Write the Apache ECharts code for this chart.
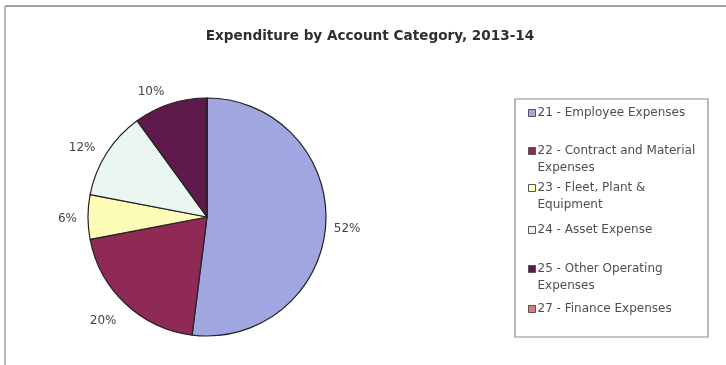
<!DOCTYPE html>
<html>
<head>
<meta charset="utf-8">
<script src="https://cdn.jsdelivr.net/npm/echarts@6/dist/echarts.min.js"></script>
<style>
  html, body { margin: 0; padding: 0; background: #ffffff; }
  #chart { width: 726px; height: 365px; }
</style>
</head>
<body>
<div id="chart"></div>
<script>
// Expenditure shares by account category, 2013-14
const categories = [
  '21 - Employee Expenses',
  '22 - Contract and Material Expenses',
  '23 - Fleet, Plant & Equipment',
  '24 - Asset Expense',
  '25 - Other Operating Expenses',
  '27 - Finance Expenses'
];
const legendLines = [
  ['21 - Employee Expenses'],
  ['22 - Contract and Material', 'Expenses'],
  ['23 - Fleet, Plant &', 'Equipment'],
  ['24 - Asset Expense'],
  ['25 - Other Operating', 'Expenses'],
  ['27 - Finance Expenses']
];
const shares = [52, 20, 6, 12, 10, 0];
const colors = ['#a0a6e0', '#8e2a55', '#fdfcb8', '#eaf6f2', '#5e1a4a', '#e07a7a'];

// layout tweaks for the percentage labels around the pie
const labelNudge = [[-1, 4], [-2, 13], [-2, 2], [-3, -2], [-1, -6], [0, 0]];

const FONT = 'DejaVu Sans, Arial, sans-serif';
const LINE = 17;
const legendX = 528;
const legendFirstLineY = [113, 151, 188, 230, 269, 309];

// one legend block per category so that each entry sits at its own row;
// wrapped entries get a blank leading line so the swatch lines up with the first line
const legends = categories.map((name, i) => {
  const lines = legendLines[i];
  const twoLine = lines.length > 1;
  return {
    data: [name],
    left: legendX,
    top: legendFirstLineY[i] - (twoLine ? 1.5 * LINE : 0.5 * LINE),
    orient: 'vertical',
    padding: 0,
    itemWidth: 7,
    itemHeight: 7,
    itemGap: 0,
    selectedMode: false,
    icon: 'rect',
    itemStyle: { borderColor: '#555', borderWidth: 1 },
    formatter: () => (twoLine ? '\n' : '') + lines.join('\n'),
    textStyle: {
      fontFamily: FONT,
      fontSize: 12,
      color: '#4e4e4e',
      lineHeight: LINE,
      padding: [0, 0, 0, -3]
    }
  };
});

const chart = echarts.init(document.getElementById('chart'), null, { renderer: 'canvas' });
chart.setOption({
  backgroundColor: '#ffffff',
  animation: false,
  color: colors,
  title: {
    text: 'Expenditure by Account Category, 2013-14',
    left: 365,
    top: 24,
    textAlign: 'center',
    textStyle: { fontFamily: FONT, fontSize: 13.6, fontWeight: 'bold', color: '#2e2e2e' }
  },
  legend: legends,
  graphic: [
    { type: 'line', shape: { x1: 5, y1: 6, x2: 726, y2: 6 }, style: { stroke: '#a0a0a0', lineWidth: 2 } },
    { type: 'line', shape: { x1: 5, y1: 6, x2: 5, y2: 365 }, style: { stroke: '#b8b8b8', lineWidth: 2 } },
    { type: 'rect', shape: { x: 515, y: 99, width: 193, height: 238 }, style: { fill: 'none', stroke: '#8a8a8a', lineWidth: 1.2 } }
  ],
  series: [{
    type: 'pie',
    center: [207, 217],
    radius: 119,
    startAngle: 90,
    clockwise: true,
    avoidLabelOverlap: false,
    minShowLabelAngle: 0.1,
    itemStyle: { borderColor: '#222', borderWidth: 1.2 },
    label: {
      show: true,
      position: 'outside',
      formatter: p => p.value + '%',
      fontFamily: FONT,
      fontSize: 12,
      color: '#444',
      distanceToLabelLine: 3
    },
    labelLine: { show: false, length: 6, length2: 0 },
    emphasis: { disabled: true },
    data: categories.map((name, i) => ({
      name,
      value: shares[i],
      label: { offset: labelNudge[i] }
    }))
  }]
});
</script>
</body>
</html>
